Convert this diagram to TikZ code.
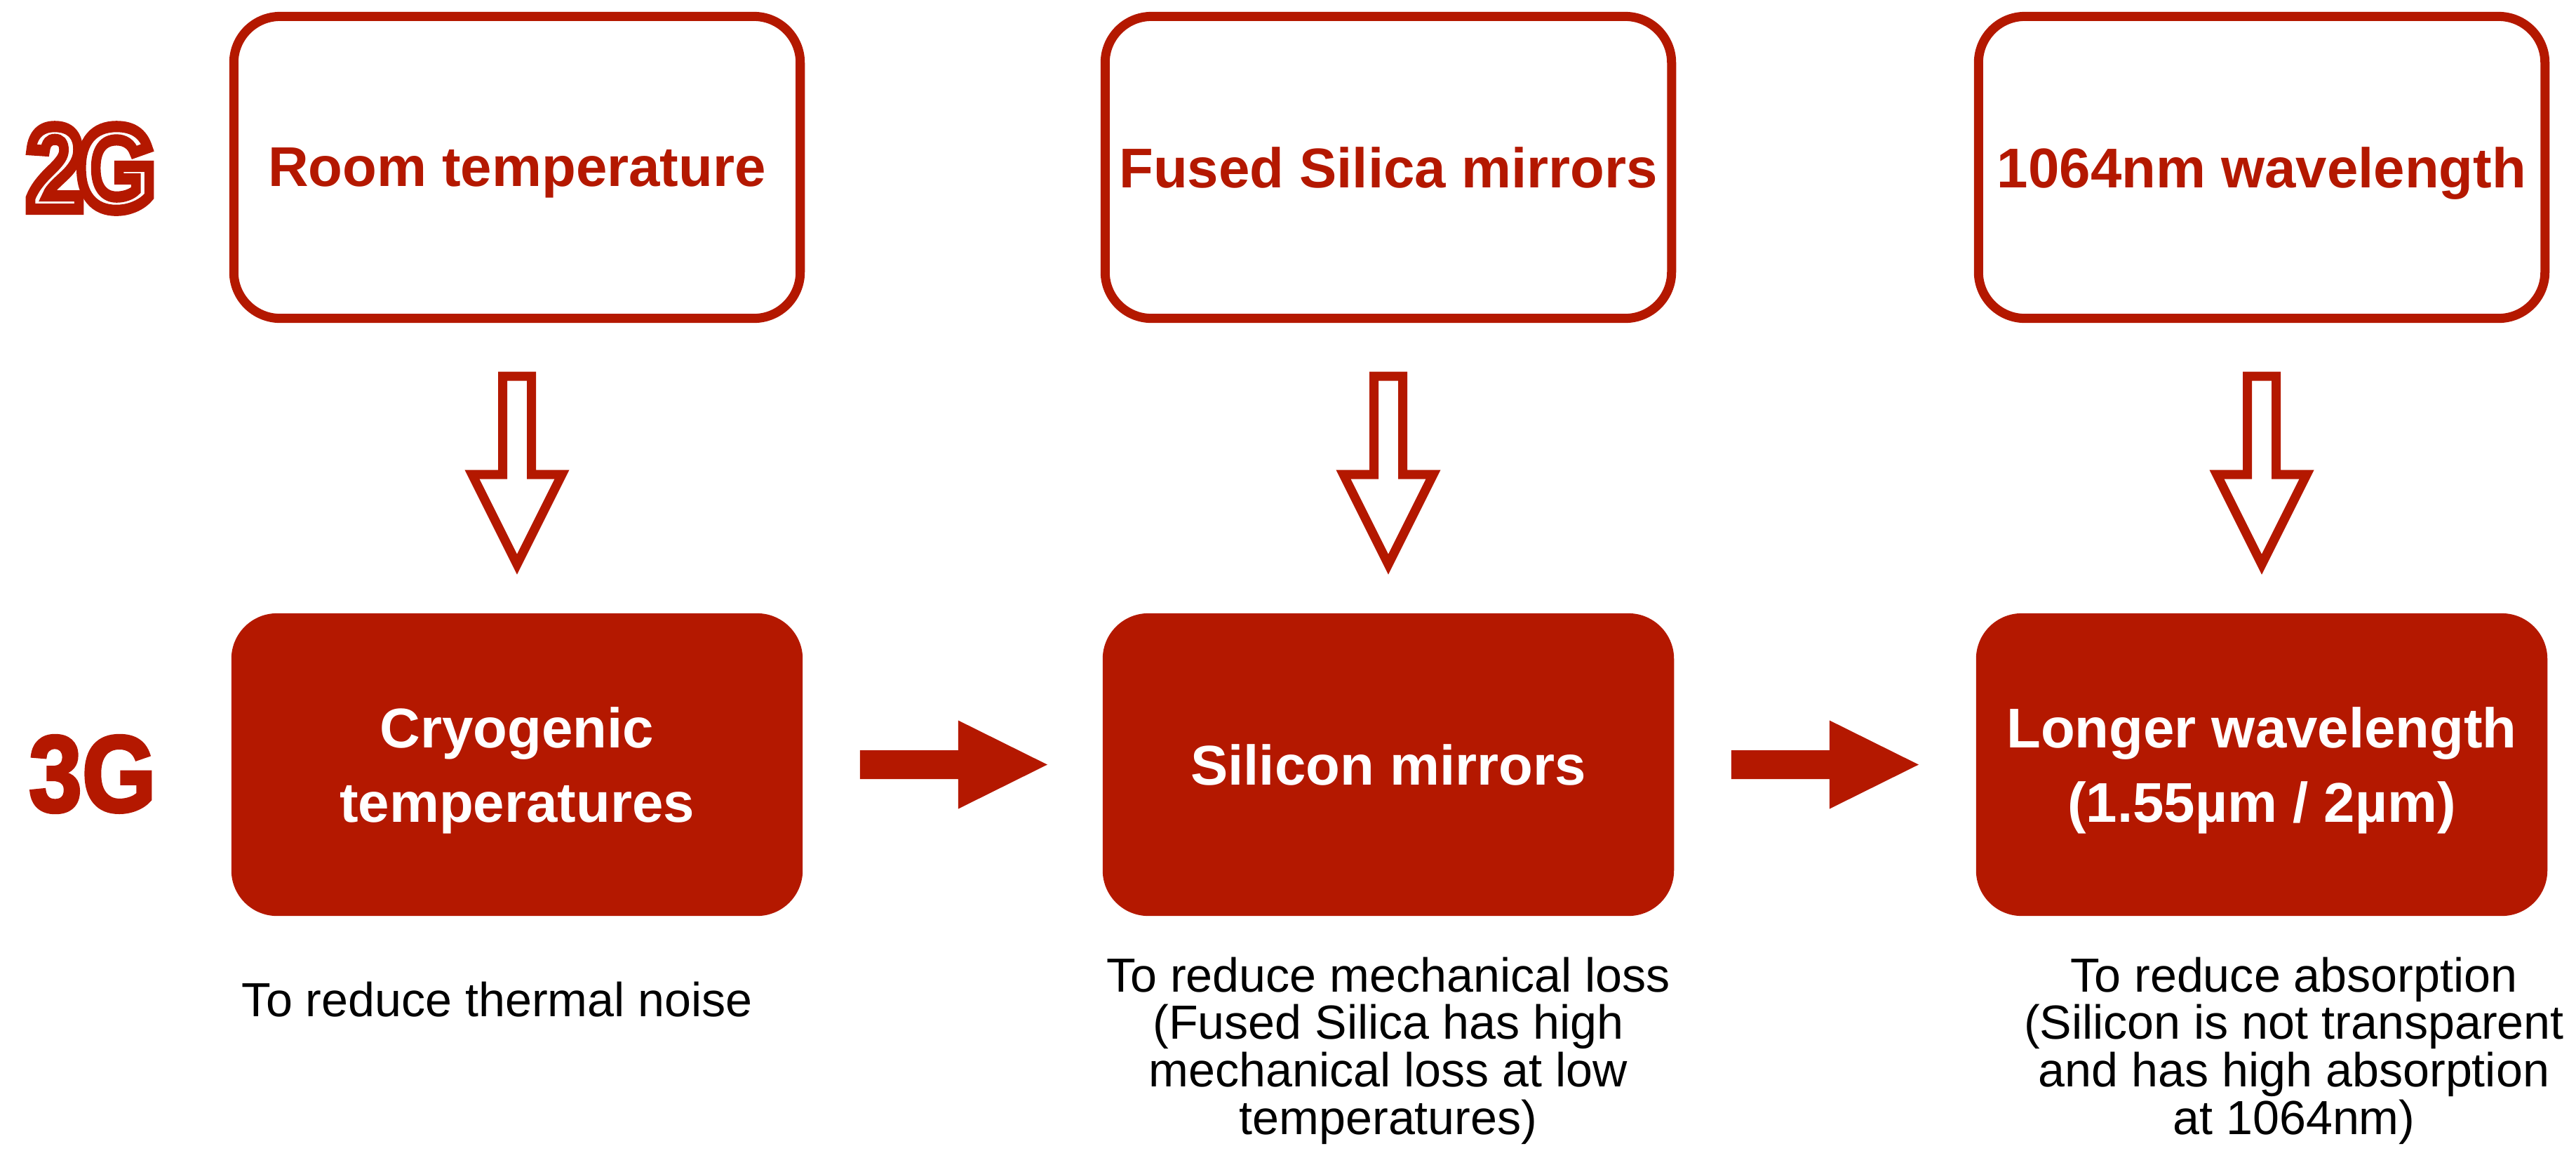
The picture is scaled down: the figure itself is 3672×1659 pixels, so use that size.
\documentclass[tikz,border=0pt]{standalone}
\usepackage{fontspec}
\usepackage{graphicx}
\setmainfont{Liberation Sans}
\newfontfamily\outlinefont[FakeBold=9.5]{Liberation Sans Bold}
\newfontfamily\heavyfont[FakeBold=3]{Liberation Sans Bold}
\usetikzlibrary{positioning,calc}

\definecolor{keyred}{RGB}{180,24,0}
\newcommand{\boxfont}{\bfseries\fontsize{22.7}{29.9}\selectfont}
\newcommand{\notefont}{\fontsize{19.4}{19.3}\selectfont}
% white letters, red rim
\newcommand{\rimtext}[1]{{\color{white}\special{pdf:literal direct 0.706 0.094 0 RG}#1}}

\tikzset{
  oldbox/.style={draw=keyred,line width=0.13cm,fill=white,rounded corners=0.66cm,
    minimum width=8.07cm,minimum height=4.30cm,text=keyred,font=\boxfont,align=center,
    text depth=0pt},
  newbox/.style={fill=keyred,rounded corners=0.65cm,
    minimum width=8.14cm,minimum height=4.31cm,text=white,font=\boxfont,align=center,
    text depth=0pt},
  note/.style={font=\notefont,align=center,inner sep=0pt,anchor=north},
  gen/.style={text=keyred,inner sep=0pt},
  hollowdown/.pic={
    \draw[keyred,line width=0.13cm,fill=white] (-20.5,0) -- (20.5,0) -- (20.5,140)
      -- (64,140) -- (0,268) -- (-64,140) -- (-20.5,140) -- cycle;
  },
  solidright/.pic={
    \fill[keyred] (0,-20.5) -- (140,-20.5) -- (140,-63) -- (267,0)
      -- (140,63) -- (140,20.5) -- (0,20.5) -- cycle;
  }
}

\begin{document}
\begin{tikzpicture}[x=0.01cm,y=-0.01cm]
\useasboundingbox (0,0) rectangle (3672,1659);

% generation labels
\node[gen] (twoG) at (130,240) {\scalebox{0.85}[1]{\outlinefont\fontsize{48}{48}\selectfont
  \rimtext{2\kern-0.06em G}}};
\node[gen] (threeG) at (132,1103) {\scalebox{0.88}[1]{\heavyfont\fontsize{44}{44}\selectfont 3G}};

% 2G row
\node[oldbox] (room) at (737,238.5) {Room temperature};
\node[oldbox] (silica) at (1979,238.5) {Fused Silica mirrors};
\node[oldbox] (laser) at (3224,238.5) {1064nm wavelength};

% 3G row
\node[newbox] (cryo) at (737,1089.5) {Cryogenic\\temperatures};
\node[newbox] (silicon) at (1979,1089.5) {Silicon mirrors};
\node[newbox] (longer) at (3224,1089.5) {Longer wavelength\\(1.55µm / 2µm)};

% from 2G to 3G
\foreach \n in {room,silica,laser}
  \pic at ($(\n.south)+(0,76)$) {hollowdown};

% along the 3G row
\pic at ($(cryo.east)+(81,0)$) {solidright};
\pic at ($(silicon.east)+(81,0)$) {solidright};

% reasons
\node[note] (whycryo) at ($(cryo.south)+(-28,92)$) {To reduce thermal noise};
\node[note] (whysilicon) at ($(silicon.south)+(0,57)$)
  {To reduce mechanical loss\\(Fused Silica has high\\mechanical loss at low\\temperatures)};
\node[note] (whylonger) at ($(longer.south)+(46,57)$)
  {To reduce absorption\\(Silicon is not transparent\\and has high absorption\\at 1064nm)};
\end{tikzpicture}
\end{document}
